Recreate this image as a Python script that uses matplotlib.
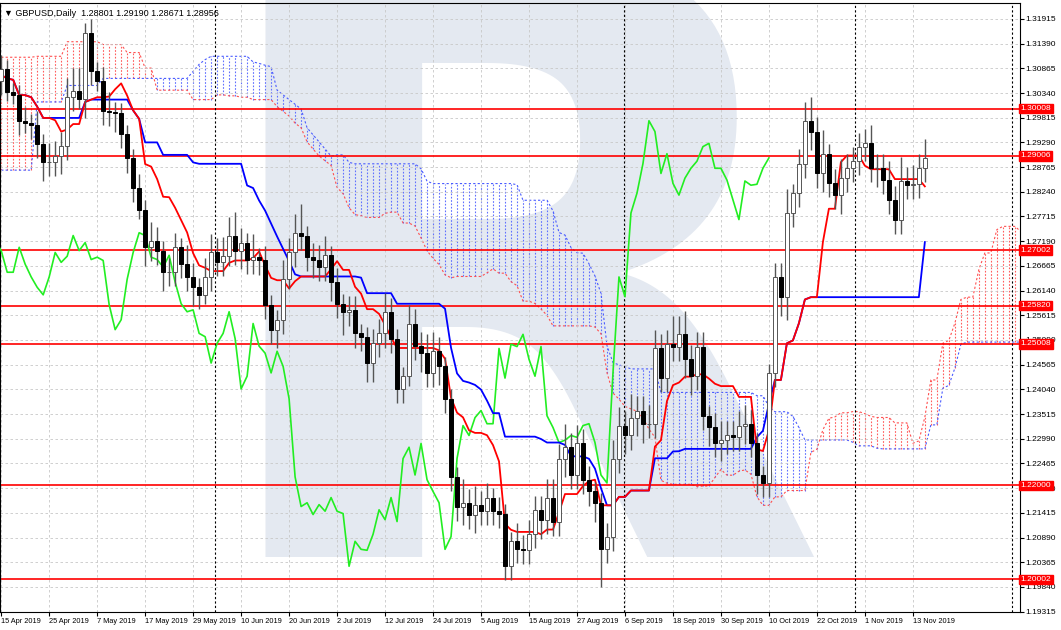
import numpy as np
import pandas as pd
import matplotlib.pyplot as plt

plt.rcParams['font.family'] = ['Liberation Sans', 'DejaVu Sans']

# daily closes GBPUSD, 15 Apr 2019 .. 15 Nov 2019
closes = [1.3084, 1.3036, 1.3030, 1.2975, 1.2970, 1.2966, 1.2926, 1.2888, 1.2888, 1.2901,
          1.2922, 1.3025, 1.3038, 1.3021, 1.3162, 1.3080, 1.3059, 1.2996, 1.2994, 1.2992,
          1.2947, 1.2895, 1.2832, 1.2786, 1.2706, 1.2720, 1.2699, 1.2653, 1.2653, 1.2706,
          1.2670, 1.2643, 1.2621, 1.2605, 1.2643, 1.2695, 1.2674, 1.2687, 1.2731, 1.2699,
          1.2716, 1.2680, 1.2685, 1.2678, 1.2584, 1.2531, 1.2552, 1.2638, 1.2695, 1.2737,
          1.2731, 1.2685, 1.2680, 1.2664, 1.2689, 1.2632, 1.2586, 1.2569, 1.2573, 1.2523,
          1.2516, 1.2460, 1.2502, 1.2523, 1.2569, 1.2512, 1.2405, 1.2432, 1.2544, 1.2496,
          1.2481, 1.2439, 1.2485, 1.2453, 1.2384, 1.2218, 1.2155, 1.2163, 1.2138, 1.2159,
          1.2145, 1.2174, 1.2145, 1.2140, 1.2028, 1.2081, 1.2064, 1.2062, 1.2096, 1.2148,
          1.2127, 1.2174, 1.2123, 1.2257, 1.2281, 1.2222, 1.2289, 1.2212, 1.2187, 1.2163,
          1.2064, 1.2091, 1.2257, 1.2327, 1.2306, 1.2344, 1.2359, 1.2331, 1.2331, 1.2491,
          1.2428, 1.2500, 1.2495, 1.2521, 1.2468, 1.2432, 1.2495, 1.2348, 1.2323, 1.2291,
          1.2296, 1.2306, 1.2302, 1.2327, 1.2331, 1.2291, 1.2222, 1.2205, 1.2439, 1.2643,
          1.2601, 1.2779, 1.2821, 1.2884, 1.2975, 1.2952, 1.2863, 1.2905, 1.2842, 1.2817,
          1.2853, 1.2874, 1.2889, 1.2920, 1.2927, 1.2874, 1.2874, 1.2849, 1.2807, 1.2765,
          1.2847, 1.2838, 1.2840, 1.2874, 1.2896]
first_open = 1.3060
# wick sizes in units of 0.001
wick_up = [3, 2, 2, 2, 3, 2, 3, 2, 4, 3, 3, 4, 5, 5, 2, 3, 2, 3, 4, 2,
           2, 2, 2, 3, 2, 4, 3, 2, 3, 3, 2, 4, 3, 2, 4, 4, 3, 4, 4, 5,
           3, 2, 5, 2, 3, 2, 2, 4, 3, 4, 6, 2, 3, 3, 4, 2, 3, 2, 3, 3,
           2, 2, 3, 3, 4, 3, 2, 2, 4, 3, 3, 4, 4, 3, 2, 2, 2, 5, 3, 4,
           3, 3, 2, 3, 2, 2, 4, 3, 3, 3, 3, 4, 4, 3, 5, 3, 4, 3, 3, 2,
           2, 3, 4, 4, 3, 5, 3, 3, 4, 4, 3, 3, 6, 4, 5, 3, 3, 3, 2, 3,
           4, 3, 3, 3, 4, 3, 2, 2, 2, 3, 3, 5, 2, 3, 4, 5, 3, 5, 2, 3,
           4, 3, 3, 3, 3, 4, 3, 3, 4, 3, 5, 3, 4, 3, 4]
wick_dn = [3, 2, 2, 3, 2, 3, 3, 4, 3, 3, 4, 3, 3, 2, 4, 3, 2, 3, 3, 4,
           3, 3, 3, 2, 4, 3, 3, 4, 3, 3, 3, 3, 4, 3, 2, 3, 3, 3, 2, 3,
           4, 3, 3, 3, 3, 3, 4, 3, 2, 3, 3, 3, 4, 3, 3, 4, 3, 5, 3, 3,
           3, 4, 4, 3, 3, 3, 3, 3, 2, 3, 4, 3, 3, 4, 3, 3, 3, 4, 3, 4,
           3, 3, 3, 3, 3, 3, 3, 3, 3, 3, 4, 3, 3, 3, 4, 3, 3, 3, 3, 4,
           8, 3, 3, 3, 4, 3, 4, 4, 3, 3, 3, 3, 3, 3, 4, 4, 3, 3, 4, 3,
           4, 3, 3, 3, 4, 3, 4, 3, 3, 3, 4, 5, 3, 3, 3, 4, 3, 4, 3, 3,
           4, 3, 3, 3, 3, 3, 4, 3, 3, 3, 3, 3, 3, 3, 3]
# cloud on the first 56 bars (built from data before the window)
span_a_head = [1.3110, 1.3110, 1.3110, 1.3110, 1.3110, 1.3110, 1.3112, 1.3112, 1.3112, 1.3112,
               1.3112, 1.3143, 1.3143, 1.3143, 1.3143, 1.3143, 1.3143, 1.3137, 1.3137, 1.3137,
               1.3137, 1.3120, 1.3120, 1.3120, 1.3087, 1.3087, 1.3040, 1.3040, 1.3040, 1.3040,
               1.3040, 1.3040, 1.3020, 1.3020, 1.3020, 1.3020, 1.3030, 1.3030, 1.3028, 1.3028,
               1.3025, 1.3025, 1.3020, 1.3020, 1.3020, 1.3020, 1.3005, 1.2995, 1.2985, 1.2970,
               1.2960, 1.2930, 1.2915, 1.2900, 1.2890, 1.2880]
span_b_head = [1.2870, 1.2870, 1.2870, 1.2870, 1.2870, 1.2870, 1.3015, 1.3015, 1.3015, 1.3015,
               1.3015, 1.3050, 1.3050, 1.3050, 1.3050, 1.3050, 1.3050, 1.3065, 1.3065, 1.3065,
               1.3065, 1.3065, 1.3065, 1.3065, 1.3065, 1.3065, 1.3065, 1.3065, 1.3065, 1.3065,
               1.3065, 1.3065, 1.3080, 1.3095, 1.3105, 1.3112, 1.3112, 1.3112, 1.3112, 1.3112,
               1.3112, 1.3112, 1.3100, 1.3097, 1.3093, 1.3090, 1.3040, 1.3030, 1.3020, 1.3010,
               1.3000, 1.2960, 1.2945, 1.2930, 1.2915, 1.2900]
levels = [1.30008, 1.29006, 1.27002, 1.25820, 1.25008, 1.22000, 1.20002]
title_text = "GBPUSD,Daily  1.28801 1.29190 1.28671 1.28956"

c = np.array(closes)
o = np.concatenate([[first_open], c[:-1]])
hi = np.maximum(o, c) + np.array(wick_up) / 1000
lo = np.minimum(o, c) - np.array(wick_dn) / 1000
n = len(c)
x = np.arange(n)
dates = pd.bdate_range("2019-04-15", periods=n + 30)

H, L = pd.Series(hi), pd.Series(lo)
tenkan = (H.rolling(9, min_periods=1).max() + L.rolling(9, min_periods=1).min()) / 2
kijun = (H.rolling(26, min_periods=1).max() + L.rolling(26, min_periods=1).min()) / 2
span_a = ((tenkan + kijun) / 2).values
span_b = ((H.rolling(52, min_periods=1).max() + L.rolling(52, min_periods=1).min()) / 2).values
nh = len(span_a_head)
cx = np.arange(n + 26)
ca = np.concatenate([span_a_head, span_a[nh - 26:]])
cb = np.concatenate([span_b_head, span_b[nh - 26:]])

fig = plt.figure(figsize=(10.61, 6.3), dpi=100)
ax = fig.add_axes([0.0, 0.028, 0.961, 0.967])
ax.text(0.5, 0.47, "R", transform=ax.transAxes, fontsize=600, fontweight="bold",
        family="DejaVu Sans", color="#e4e9f1", ha="center", va="center", zorder=0)

# cloud hatching
top, bot = np.maximum(ca, cb), np.minimum(ca, cb)
red = ca >= cb
dots = [(0, (1.5, 1.5))]
ax.vlines(cx[red], bot[red], top[red], colors="#ff4040", linestyles=dots, lw=0.8, alpha=0.85, zorder=1)
ax.vlines(cx[~red], bot[~red], top[~red], colors="#6070ff", linestyles=dots, lw=0.8, zorder=1)
ax.plot(cx, ca, color="#ff5050", ls=(0, (2, 2)), lw=0.8, zorder=1)
ax.plot(cx, cb, color="#4a5cff", ls=(0, (2, 2)), lw=0.8, zorder=1)

for lv in levels:
    ax.axhline(lv, color="red", lw=1.2, zorder=2)
    ax.text(1.001, lv, f"{lv:.5f}", transform=ax.get_yaxis_transform(), fontsize=6,
            color="white", va="center", ha="left",
            bbox=dict(boxstyle="square,pad=0.15", fc="red", ec="red"), zorder=5, clip_on=False)

ax.plot(x - 26, c, color="#22ee22", lw=1.2, zorder=3)
ax.plot(x, kijun, color="#0000ff", lw=1.3, zorder=3)
ax.plot(x, tenkan, color="#ff0000", lw=1.3, zorder=3)

# candles
ax.vlines(x, lo, hi, color="#555555", lw=1, zorder=4)
up = c >= o
ax.bar(x[up], (c - o)[up], bottom=o[up], width=0.6, color="white", edgecolor="#555555", lw=0.7, zorder=4)
ax.bar(x[~up], (o - c)[~up], bottom=c[~up], width=0.6, color="black", edgecolor="black", lw=0.7, zorder=4)

for sep in [35.7, 103.8, 142.3, 168.6]:
    ax.axvline(sep, color="black", ls=(0, (2, 2)), lw=0.8, zorder=2)

yt = 1.19315 + 0.00525 * np.arange(25)
ax.set_yticks(yt)
ax.set_yticklabels([f"{v:.5f}" for v in yt])
ax.yaxis.tick_right()
tk = np.arange(0, n, 8)
ax.set_xticks(tk)
ax.set_xticklabels([f"{d.day} {d.strftime('%b %Y')}" for d in dates[tk]])
ax.tick_params(axis="y", labelsize=6, length=3, pad=1)
ax.tick_params(axis="x", labelsize=5.3, length=3, pad=1)
for lab in ax.get_xticklabels():
    lab.set_ha("left")
ax.grid(True, color="#c8c8c8", ls=(0, (3, 3)), lw=0.6)
ax.set_xlim(-0.2, 169.8)
ax.set_ylim(1.1930, 1.3225)
ax.text(0.004, 0.99, "\u25bc " + title_text, transform=ax.transAxes, fontsize=6.5,
        va="top", ha="left", zorder=6)

fig.savefig("out.png")
